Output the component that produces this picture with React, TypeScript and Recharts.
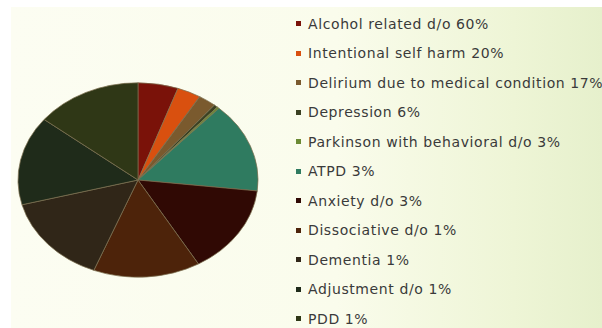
import React from "react";
import { PieChart, Pie, Cell, Legend, Sector } from "recharts";

// legend order == slice order, clockwise from 12 o'clock
const labels = [
  "Alcohol related d/o 60%",
  "Intentional self harm 20%",
  "Delirium due to medical condition 17%",
  "Depression 6%",
  "Parkinson with behavioral d/o 3%",
  "ATPD 3%",
  "Anxiety d/o 3%",
  "Dissociative d/o 1%",
  "Dementia 1%",
  "Adjustment d/o 1%",
  "PDD 1%",
];

// slice sizes as drawn in the picture (they don't follow the legend numbers)
const shares = [5.4, 3.2, 2.4, 0.5, 0.3, 15, 14.8, 14.4, 14.9, 14.8, 14.3];

const colors = [
  "#7a1209", "#d9500f", "#7a5a2e", "#3b4122", "#6b8a34", "#2f7b60",
  "#300904", "#4d230a", "#302618", "#1f2b1a", "#2f3716",
];

const CX = 138;
const CY = 180;
const SQUASH = 0.81;

const data = labels.map((name, i) => ({ name, value: shares[i] }));

function FlatSector(props: any) {
  const { cx, cy } = props;
  return (
    <g transform={`translate(${cx},${cy}) scale(1,${SQUASH}) translate(${-cx},${-cy})`}>
      <Sector {...props} />
    </g>
  );
}

function LegendList() {
  return (
    <ul style={{ listStyle: "none", margin: 0, padding: 0 }}>
      {labels.map((l, i) => (
        <li key={l} style={{ display: "flex", alignItems: "center", height: 29.5 }}>
          <span style={{ width: 5, height: 5, background: colors[i], marginRight: 7, flex: "none" }} />
          <span style={{ fontSize: 14, letterSpacing: 0.6, color: "#3a3a3a", whiteSpace: "nowrap" }}>{l}</span>
        </li>
      ))}
    </ul>
  );
}

export default function App() {
  return (
    <div style={{ position: "absolute", left: 0, top: 0, width: 602, height: 328, background: "#fff", overflow: "hidden" }}>
      <div
        style={{
          position: "absolute", left: 11, top: 7, right: 0, bottom: 0,
          background: "linear-gradient(90deg, #fcfdf2 0%, #fafcec 55%, #eef5d6 85%, #e6f0cc 100%)",
        }}
      />
      <div style={{ position: "absolute", left: 0, top: 0, fontFamily: "'DejaVu Sans', sans-serif" }}>
        <PieChart width={602} height={328} margin={{ top: 0, right: 0, bottom: 0, left: 0 }}>
          <Pie
            data={data}
            dataKey="value"
            nameKey="name"
            cx={CX}
            cy={CY}
            outerRadius={120}
            startAngle={90}
            endAngle={-270}
            stroke="#7d7050"
            strokeWidth={0.8}
            shape={FlatSector}
            isAnimationActive={false}
          >
            {data.map((d, i) => (
              <Cell key={d.name} fill={colors[i]} />
            ))}
          </Pie>
          <Legend
            layout="vertical"
            verticalAlign="top"
            align="right"
            content={() => <LegendList />}
            wrapperStyle={{ left: 296, top: 9, width: 306 }}
          />
        </PieChart>
      </div>
    </div>
  );
}
